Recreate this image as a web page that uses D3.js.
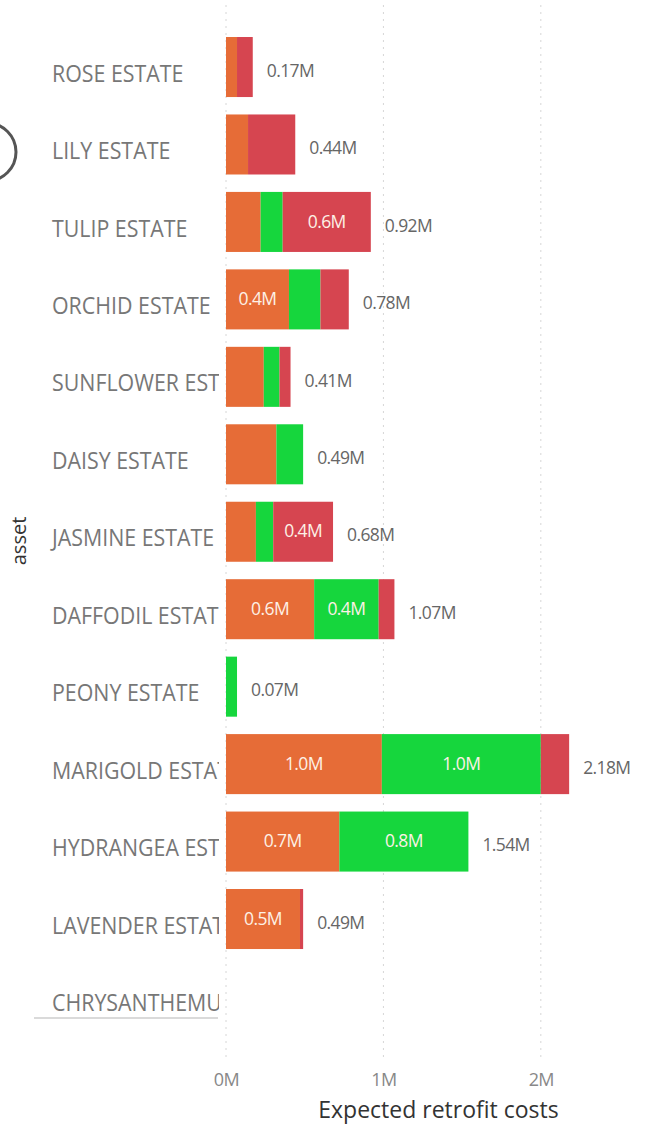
<!DOCTYPE html>
<html>
<head>
<meta charset="utf-8">
<script src="https://cdn.jsdelivr.net/npm/d3@7"></script>
<style>
  html, body { margin: 0; padding: 0; background: #fff; }
  svg { display: block; }
</style>
</head>
<body>
<svg id="chart" width="653" height="1127"></svg>
<script>
// Assets, top to bottom
const assets = [
  "ROSE ESTATE", "LILY ESTATE", "TULIP ESTATE", "ORCHID ESTATE",
  "SUNFLOWER ESTATE", "DAISY ESTATE", "JASMINE ESTATE", "DAFFODIL ESTATE",
  "PEONY ESTATE", "MARIGOLD ESTATE", "HYDRANGEA ESTATE", "LAVENDER ESTATE",
  "CHRYSANTHEMUM ESTATE"
];
// Expected retrofit costs per asset, in millions, for each of the three stacked parts
const orangeCost = [0.07, 0.14, 0.22, 0.40, 0.24, 0.32, 0.19, 0.56, 0.00, 0.99, 0.72, 0.47, 0];
const greenCost  = [0.00, 0.00, 0.14, 0.20, 0.10, 0.17, 0.11, 0.41, 0.07, 1.01, 0.82, 0.00, 0];
const redCost    = [0.10, 0.30, 0.56, 0.18, 0.07, 0.00, 0.38, 0.10, 0.00, 0.18, 0.00, 0.02, 0];
const seriesKeys = ["orange", "green", "red"];
const seriesColors = ["#E66C37", "#16D63D", "#D64550"];
const tickValues = [0, 1, 2];
const xTitle = "Expected retrofit costs";
const yTitle = "asset";

const rows = assets.map((a, i) => ({
  asset: a, orange: orangeCost[i], green: greenCost[i], red: redCost[i]
}));

const svg = d3.select("#chart");
const plotLeft = 226, plotRight = 651;

const x = d3.scaleLinear().domain([0, 2.7]).range([plotLeft, plotRight]);
const y = d3.scaleBand().domain(assets).range([28.3, 1035.2])
  .paddingInner(0.225).paddingOuter(0.1125);
const color = d3.scaleOrdinal().domain(seriesKeys).range(seriesColors);

// Dotted vertical gridlines
svg.append("g").selectAll("line").data(tickValues).join("line")
  .attr("x1", d => x(d)).attr("x2", d => x(d))
  .attr("y1", 5).attr("y2", 1062)
  .attr("stroke", "#d6d6d6").attr("stroke-width", 1)
  .attr("stroke-dasharray", "2,5");

// Category labels, clipped at the edge of the plot
svg.append("defs").append("clipPath").attr("id", "labelClip")
  .append("rect").attr("x", 0).attr("y", 0).attr("width", 219).attr("height", 1127);

const labelFont = "'Open Sans', 'Noto Sans', sans-serif";
svg.append("g").attr("clip-path", "url(#labelClip)")
  .selectAll("text").data(assets).join("text")
  .attr("transform", d => `translate(52,${y(d) + y.bandwidth() / 2 + 8.5}) scale(0.93,1)`)
  .attr("dominant-baseline", "middle")
  .attr("font-family", labelFont)
  .attr("font-size", 23)
  .attr("fill", "#777")
  .text(d => d);

// Rule under the category labels
svg.append("line").attr("x1", 34).attr("x2", 218).attr("y1", 1018).attr("y2", 1018)
  .attr("stroke", "#b5b5b5").attr("stroke-width", 1);

// Stacked bars
const stack = d3.stack().keys(seriesKeys);
const layers = stack(rows);

const layerG = svg.append("g").selectAll("g").data(layers).join("g")
  .attr("fill", d => color(d.key));

layerG.selectAll("rect").data(d => d.map(s => ({ s, key: d.key })))
  .join("rect")
  .attr("x", d => x(d.s[0]))
  .attr("y", d => y(d.s.data.asset))
  .attr("width", d => Math.max(0, x(d.s[1]) - x(d.s[0])))
  .attr("height", y.bandwidth());

// Values inside segments wide enough to hold them
const fmtIn = d3.format(".1f");
layerG.selectAll("text").data(d => d.map(s => ({ s, key: d.key })).filter(d => d.s[1] - d.s[0] >= 0.35))
  .join("text")
  .attr("x", d => (x(d.s[0]) + x(d.s[1])) / 2)
  .attr("y", d => y(d.s.data.asset) + y.bandwidth() / 2 + 1)
  .attr("text-anchor", "middle")
  .attr("dominant-baseline", "middle")
  .attr("font-family", labelFont)
  .attr("font-size", 17.5)
  .attr("font-weight", 500)
  .attr("letter-spacing", -0.6)
  .attr("fill", "#fdf1e6")
  .text(d => fmtIn(d.s[1] - d.s[0]) + "M");

// Totals after each bar
const fmtTot = d3.format(".2f");
svg.append("g").selectAll("text")
  .data(rows.filter(r => r.orange + r.green + r.red > 0))
  .join("text")
  .attr("x", d => x(d.orange + d.green + d.red) + 14)
  .attr("y", d => y(d.asset) + y.bandwidth() / 2 + 5)
  .attr("dominant-baseline", "middle")
  .attr("font-family", labelFont)
  .attr("font-size", 17.5)
  .attr("letter-spacing", -0.6)
  .attr("fill", "#666")
  .text(d => fmtTot(d.orange + d.green + d.red) + "M");

// X axis tick labels
const xAxis = d3.axisBottom(x).tickValues(tickValues).tickFormat(d => d + "M").tickSize(0).tickPadding(0);
const axG = svg.append("g").attr("transform", "translate(0,1073)").call(xAxis);
axG.select(".domain").remove();
axG.selectAll("text")
  .attr("font-family", labelFont)
  .attr("font-size", 18)
  .attr("letter-spacing", -0.6)
  .attr("fill", "#888");

// Axis titles
svg.append("text")
  .attr("x", (plotLeft + plotRight) / 2).attr("y", 1118)
  .attr("text-anchor", "middle")
  .attr("font-family", labelFont)
  .attr("font-size", 23)
  .attr("fill", "#333")
  .text(xTitle);

svg.append("text")
  .attr("transform", "translate(26,541) rotate(-90)")
  .attr("text-anchor", "middle")
  .attr("font-family", labelFont)
  .attr("font-size", 20)
  .attr("fill", "#333")
  .text(yTitle);

// Partial ring at the left edge
svg.append("circle")
  .attr("cx", -13).attr("cy", 152).attr("r", 29)
  .attr("fill", "none").attr("stroke", "#555").attr("stroke-width", 3);
</script>
</body>
</html>
